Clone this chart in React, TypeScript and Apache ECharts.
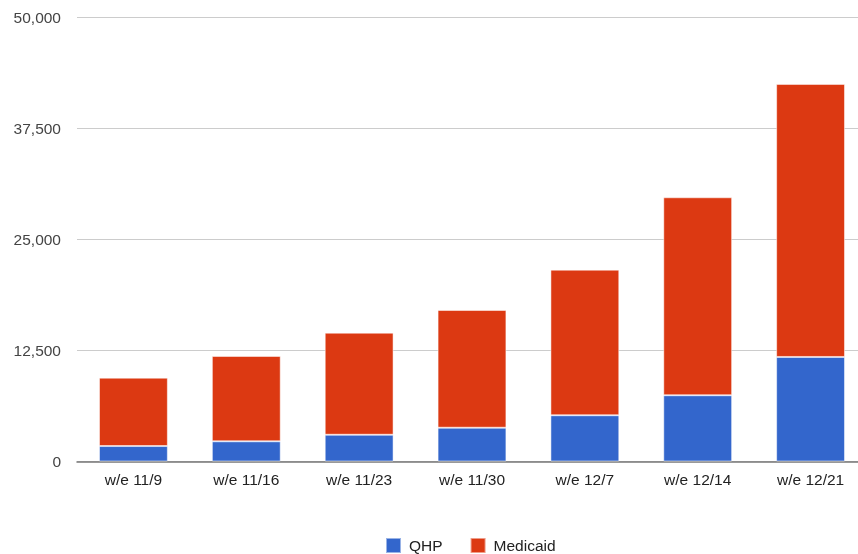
import React, { useEffect, useRef } from "react";
import * as echarts from "echarts";

const categories = ["w/e 11/9", "w/e 11/16", "w/e 11/23", "w/e 11/30", "w/e 12/7", "w/e 12/14", "w/e 12/21"];
const qhp = [1740, 2270, 3010, 3800, 5200, 7450, 11760];
const medicaid = [7690, 9600, 11480, 13240, 16380, 22270, 30710];
const seriesNames = ["QHP", "Medicaid"];

export default function App() {
  const ref = useRef<HTMLDivElement>(null);
  useEffect(() => {
    if (!ref.current) return;
    const chart = echarts.init(ref.current, undefined, { renderer: "svg" });
    const font = "Arial, 'Liberation Sans', sans-serif";
    chart.setOption({
      animation: false,
      textStyle: { fontFamily: font },
      grid: { left: 77, top: 17, width: 790, bottom: 92.5, containLabel: false },
      legend: {
        top: 532,
        left: 380,
        icon: "rect",
        itemWidth: 15,
        itemHeight: 15,
        itemGap: 27,
        textStyle: { fontSize: 15.5, color: "#222", fontFamily: font, padding: [0, 0, 0, 3] },
        data: seriesNames,
      },
      xAxis: {
        type: "category",
        data: categories,
        axisTick: { show: false },
        axisLine: { lineStyle: { color: "#777", width: 1.5 } },
        axisLabel: { fontSize: 15.5, color: "#222", margin: 10, fontFamily: font },
      },
      yAxis: {
        type: "value",
        min: 0,
        max: 50000,
        interval: 12500,
        axisLine: { show: false },
        axisTick: { show: false },
        splitLine: { lineStyle: { color: "#ccc" } },
        axisLabel: {
          fontSize: 15.5,
          color: "#444",
          margin: 16,
          fontFamily: font,
          formatter: (v: number) => v.toLocaleString("en-US"),
        },
      },
      series: [
        {
          name: seriesNames[0],
          type: "bar",
          stack: "total",
          data: qhp,
          barCategoryGap: "39%",
          itemStyle: { color: "#3366CC", borderColor: "rgba(255,255,255,0.5)", borderWidth: 1 },
        },
        {
          name: seriesNames[1],
          type: "bar",
          stack: "total",
          data: medicaid,
          barCategoryGap: "39%",
          itemStyle: { color: "#DC3912", borderColor: "rgba(255,255,255,0.5)", borderWidth: 1 },
        },
      ],
    });
    return () => chart.dispose();
  }, []);
  return <div ref={ref} style={{ position: "fixed", left: 0, top: 0, width: 868, height: 554 }} />;
}
